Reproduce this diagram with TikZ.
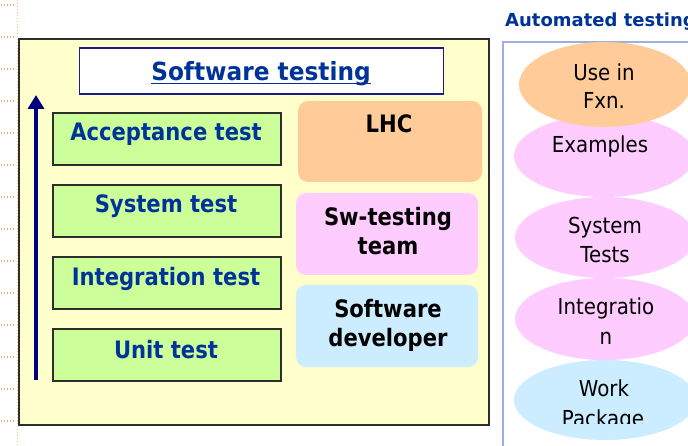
\documentclass[tikz,border=0pt]{standalone}
\usepackage{fontspec}
\usetikzlibrary{arrows.meta,shapes.geometric}

% Verdana-like faces, narrowed slightly to suit the slide's bitmap fonts
\newfontfamily\boxfont{DejaVu Sans}[FakeStretch=0.88]
\newfontfamily\titlefont{DejaVu Sans}[FakeStretch=0.93]
\newfontfamily\ovalfont{DejaVu Sans}[FakeStretch=0.9]
\newfontfamily\headfont{DejaVu Sans}

\definecolor{paper}{HTML}{FFFFCC}
\definecolor{leaf}{HTML}{CCFF99}
\definecolor{ink}{HTML}{003399}
\definecolor{navy}{HTML}{000080}
\definecolor{titleedge}{HTML}{1A1A8C}
\definecolor{peach}{HTML}{FFCC99}
\definecolor{rose}{HTML}{FFCCFF}
\definecolor{sky}{HTML}{CCECFF}
\definecolor{frame}{HTML}{9DB0DD}
\definecolor{guide}{HTML}{F2A868}
\definecolor{edge}{HTML}{2E2E2E}

\tikzset{
  panel/.style={draw=edge, line width=2pt, fill=paper, inner sep=0, outer sep=0, anchor=north west},
  levelbox/.style={draw=edge, line width=2pt, fill=leaf, inner sep=0, outer sep=0,
    minimum width=228pt, minimum height=52pt, anchor=north west},
  levellabel/.style={font=\boxfont\bfseries\fontsize{24}{28}\selectfont, text=ink, inner sep=0, anchor=base},
  rolebox/.style={rounded corners=10pt, inner sep=0, outer sep=0, anchor=north west},
  rolelabel/.style={font=\boxfont\bfseries\fontsize{24}{28}\selectfont, text=black, inner sep=0, anchor=base},
  oval/.style={ellipse, inner sep=0, outer sep=0},
  ovallabel/.style={font=\ovalfont\fontsize{22}{26}\selectfont, text=black, inner sep=0, anchor=base},
}

\begin{document}
\begin{tikzpicture}[x=1pt, y=-1pt]
  \clip (0,0) rectangle (688,446);
  \fill[white] (0,0) rectangle (688,446);

  % dotted guides at the left margin
  \draw[guide!70, line width=0.8pt, dash pattern=on 1pt off 2pt] (17.5,0) -- (17.5,446);
  \foreach \k in {0,...,13}
    \draw[guide, line width=1.1pt, dash pattern=on 1.2pt off 1.8pt] (1,5+32*\k) -- (16,5+32*\k);

  % main yellow panel
  \node[panel, minimum width=470pt, minimum height=386pt] (stage) at (19,39) {};

  % heading box
  \node[draw=titleedge, line width=1.6pt, fill=white, inner sep=0, outer sep=0,
        minimum width=364pt, minimum height=46pt, anchor=north west] (ttlbox) at (79.5,48) {};
  \node[font=\titlefont\bfseries\fontsize{25}{30}\selectfont, text=ink, inner sep=0, anchor=base]
        (ttl) at (261,81) {Software testing};
  \draw[ink, line width=1.5pt] ([yshift=-2.5pt]ttl.base west) -- ([yshift=-2.5pt]ttl.base east);

  % test levels
  \node[levelbox] (acc) at (53,113) {};
  \node[levelbox] (sys) at (53,185) {};
  \node[levelbox] (int) at (53,257) {};
  \node[levelbox] (unit) at (53,329) {};
  \node[levellabel] (accl) at (166,141) {Acceptance test};
  \node[levellabel] (sysl) at (166,213) {System test};
  \node[levellabel] (intl) at (166,286) {Integration test};
  \node[levellabel] (unitl) at (166,358) {Unit test};

  % upward arrow
  \coordinate (arrowfoot) at (36,380);
  \coordinate (arrowtip) at (36,95);
  \draw[navy, line width=4.5pt, -{Triangle[width=16pt,length=14pt]}] (arrowfoot) -- (arrowtip);

  % who tests at each level
  \node[rolebox, fill=peach, minimum width=184pt, minimum height=81pt] (lhc) at (298,101) {};
  \node[rolebox, fill=rose, minimum width=182pt, minimum height=82pt] (team) at (296,193) {};
  \node[rolebox, fill=sky, minimum width=182pt, minimum height=82pt] (dev) at (296,285) {};
  \node[rolelabel] (lhcl) at (389,133) {LHC};
  \node[rolelabel] (teaml1) at (388,226) {Sw-testing};
  \node[rolelabel] (teaml2) at (388,255) {team};
  \node[rolelabel] (devl1) at (388,317) {Software};
  \node[rolelabel] (devl2) at (388,346) {developer};

  % automated testing column
  \node[font=\headfont\bfseries\fontsize{18}{22}\selectfont, text=ink, inner sep=0, anchor=base west]
        (autohead) at (505,26.5) {Automated testing};
  \coordinate (frameA) at (503,446);
  \coordinate (frameB) at (503,42);
  \coordinate (frameC) at (690,42);
  \draw[frame, line width=1.5pt] (frameA) -- (frameB) -- (frameC);

  \node[oval, fill=sky, minimum width=182pt, minimum height=80pt] (wp) at (605,400) {};
  \node[oval, fill=rose, minimum width=180pt, minimum height=82pt] (integ) at (605,319) {};
  \node[oval, fill=rose, minimum width=180pt, minimum height=81pt] (systests) at (605,237.5) {};
  \node[oval, fill=rose, minimum width=180pt, minimum height=82pt] (examples) at (604,156) {};
  \node[oval, fill=peach, minimum width=172pt, minimum height=85pt] (usein) at (605,84.5) {};

  \node[ovallabel] (useinl1) at (604,81) {Use in};
  \node[ovallabel] (useinl2) at (604,108.5) {Fxn.};
  \node[ovallabel] (examplesl) at (600,153) {Examples};
  \node[ovallabel] (systestsl1) at (605,234) {System};
  \node[ovallabel] (systestsl2) at (605,263) {Tests};
  \node[ovallabel] (integl1) at (606,314.5) {Integratio};
  \node[ovallabel] (integl2) at (606,344.5) {n};
  \node[ovallabel] (wpl1) at (604,396.5) {Work};
  \begin{scope}
    \clip (500,300) rectangle (688,423);
    \node[ovallabel] (wpl2) at (603,426) {Package};
  \end{scope}
\end{tikzpicture}
\end{document}
